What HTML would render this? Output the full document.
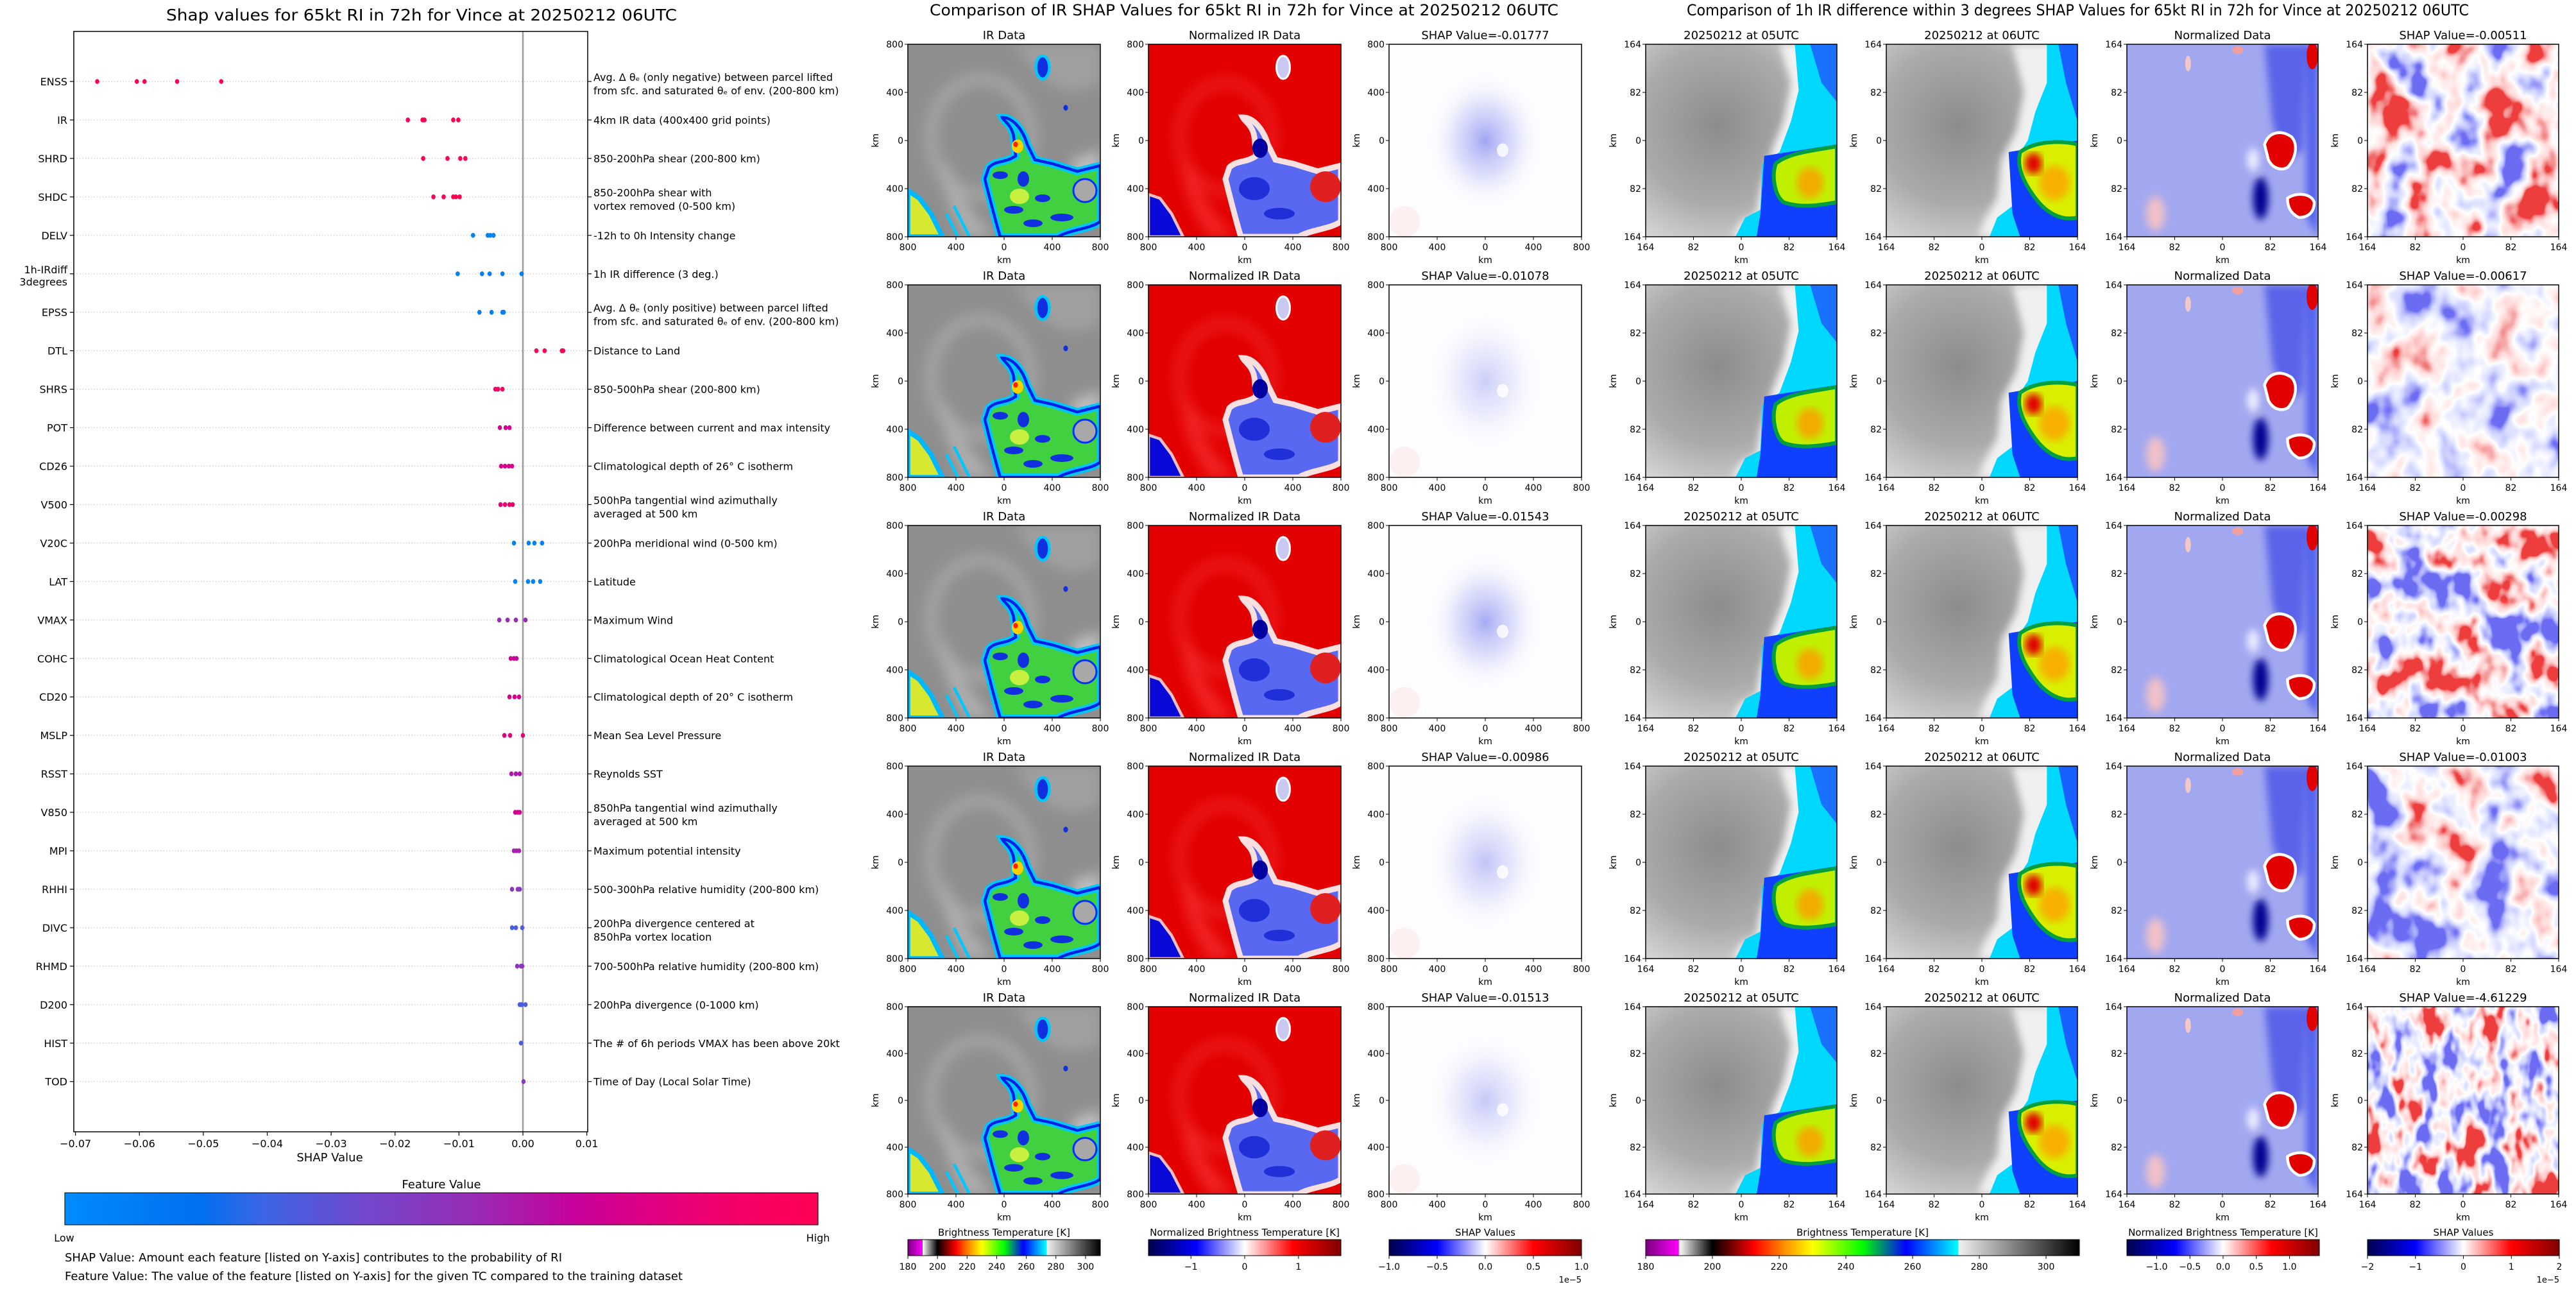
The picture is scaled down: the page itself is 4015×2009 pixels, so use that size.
<!DOCTYPE html>
<html><head><meta charset="utf-8"><title>SHAP RI Vince</title>
<style>
html,body{margin:0;padding:0;background:#fff;}
svg{display:block;font-family:"DejaVu Sans","Liberation Sans",sans-serif;}
</style></head>
<body>
<svg id="fig" xmlns="http://www.w3.org/2000/svg" width="4015" height="2009" viewBox="0 0 4015 2009">
<defs>
  <filter id="b1" x="-10%" y="-10%" width="120%" height="120%"><feGaussianBlur stdDeviation="2"/></filter>
  <filter id="b3" x="-20%" y="-20%" width="140%" height="140%"><feGaussianBlur stdDeviation="3.5"/></filter>
  <radialGradient id="grayRad" cx="0.38" cy="0.42" r="0.75">
    <stop offset="0" stop-color="#8c8c8c"/><stop offset="0.55" stop-color="#aaaaaa"/><stop offset="1" stop-color="#e0e0e0"/>
  </radialGradient>
  <radialGradient id="blueGlow" cx="0.5" cy="0.5" r="0.5">
    <stop offset="0" stop-color="#6a74ec" stop-opacity="0.75"/><stop offset="0.5" stop-color="#a8aef4" stop-opacity="0.45"/><stop offset="1" stop-color="#ffffff" stop-opacity="0"/>
  </radialGradient>
  <linearGradient id="shapCmap" x1="0" x2="1" y1="0" y2="0">
    <stop offset="0" stop-color="#008bfb"/><stop offset="0.18" stop-color="#0070f0"/><stop offset="0.26" stop-color="#3a66e6"/>
    <stop offset="0.4" stop-color="#7248cc"/><stop offset="0.55" stop-color="#9a2ab4"/><stop offset="0.68" stop-color="#c8009a"/>
    <stop offset="0.85" stop-color="#ee0070"/><stop offset="1" stop-color="#ff0052"/>
  </linearGradient>
  <linearGradient id="btCmap" x1="0" x2="1" y1="0" y2="0">
    <stop offset="0" stop-color="#7a0080"/><stop offset="0.076" stop-color="#ff00ff"/><stop offset="0.077" stop-color="#ffffff"/>
    <stop offset="0.154" stop-color="#000000"/><stop offset="0.25" stop-color="#ff0000"/><stop offset="0.32" stop-color="#ff9000"/>
    <stop offset="0.385" stop-color="#ffff00"/><stop offset="0.5" stop-color="#00ff00"/><stop offset="0.6" stop-color="#0000ff"/>
    <stop offset="0.72" stop-color="#00ffff"/><stop offset="0.722" stop-color="#f0f0f0"/><stop offset="1" stop-color="#000000"/>
  </linearGradient>
  <linearGradient id="seismic" x1="0" x2="1" y1="0" y2="0">
    <stop offset="0" stop-color="#00004c"/><stop offset="0.25" stop-color="#0000ff"/><stop offset="0.5" stop-color="#ffffff"/>
    <stop offset="0.75" stop-color="#ff0000"/><stop offset="1" stop-color="#800000"/>
  </linearGradient>

  <g id="irT">
    <rect width="100" height="100" fill="#8e8e8e"/>
    <g filter="url(#b3)">
      <ellipse cx="38" cy="48" rx="26" ry="30" fill="none" stroke="#b0b0b0" stroke-width="7" opacity="0.6"/>
      <path d="M55,0 C70,20 80,30 100,20 L100,0Z" fill="#a0a0a0"/>
      <path d="M20,60 C25,75 30,85 45,100 L30,100 C22,85 15,70 20,60Z" fill="#b0b0b0"/>
      <path d="M85,60 L100,55 L100,75 L88,78Z" fill="#c0c0c0"/>
    </g>
    <path d="M0,76 L6,80 L12,88 L18,100 L0,100Z" fill="#d8e830" stroke="#00b8ff" stroke-width="2.5"/>
    <path d="M20,88 L26,100 M24,84 L32,100" stroke="#00c8ff" stroke-width="1.5" fill="none"/>
    <path d="M42,64 C46,60 50,62 56,58 L55,48 C54,42 50,40 49,38 C55,38 60,45 62,52 L66,60 L75,62 L88,66 L100,63 L100,92 C95,96 85,96 78,100 L48,100 C45,90 42,78 40,70 Z" fill="#40d040" stroke="#00c8ff" stroke-width="4"/>
    <path d="M42,64 C46,60 50,62 56,58 L55,48 C54,42 50,40 49,38 C55,38 60,45 62,52 L66,60 L75,62 L88,66 L100,63 L100,92 C95,96 85,96 78,100 L48,100 C45,90 42,78 40,70 Z" fill="none" stroke="#0020e8" stroke-width="1.5"/>
    <ellipse cx="48" cy="68" rx="4" ry="2" fill="#1030e0"/><ellipse cx="60" cy="70" rx="3" ry="4" fill="#1030e0"/>
    <ellipse cx="70" cy="80" rx="4" ry="2" fill="#1030e0"/><ellipse cx="55" cy="86" rx="5" ry="2" fill="#1030e0"/>
    <ellipse cx="80" cy="90" rx="6" ry="2" fill="#1030e0"/><ellipse cx="65" cy="93" rx="5" ry="2" fill="#1030e0"/>
    <ellipse cx="58" cy="79" rx="5" ry="4" fill="#c8f040"/>
    <ellipse cx="92" cy="76" rx="6" ry="6" fill="#a8a8a8" stroke="#0030ff" stroke-width="1"/>
    <ellipse cx="57" cy="53" rx="3" ry="3.5" fill="#ffd000"/><ellipse cx="56" cy="52" rx="1.2" ry="1.4" fill="#ff2000"/>
    <ellipse cx="70" cy="12" rx="3.5" ry="6" fill="#1030e0" stroke="#00c8ff" stroke-width="1.5"/>
    <ellipse cx="82" cy="33" rx="1.2" ry="1.5" fill="#1030e0"/>
  </g>
  <g id="nirT">
    <rect width="100" height="100" fill="#e20000"/>
    <g filter="url(#b3)">
      <ellipse cx="40" cy="48" rx="24" ry="28" fill="none" stroke="#ff5050" stroke-width="5" opacity="0.4"/>
      <path d="M20,60 C25,75 30,85 45,100 L32,100 C22,85 15,70 20,60Z" fill="#ff4040" opacity="0.6"/>
    </g>
    <path d="M0,78 L6,80 L12,88 L18,100 L0,100Z" fill="#0a0ad8" stroke="#f0c0c0" stroke-width="1.5"/>
    <path d="M42,64 C46,60 50,62 56,58 L55,48 C54,42 50,40 49,38 C55,38 60,45 62,52 L66,60 L75,62 L88,66 L100,63 L100,92 C95,96 85,96 78,100 L48,100 C45,90 42,78 40,70 Z" fill="#5868f0" stroke="#f8e0e0" stroke-width="3"/>
    <ellipse cx="55" cy="75" rx="8" ry="6" fill="#2030d8"/><ellipse cx="68" cy="88" rx="8" ry="3" fill="#2030d8"/>
    <ellipse cx="92" cy="74" rx="8" ry="8" fill="#e02020"/>
    <ellipse cx="58" cy="54" rx="4" ry="5" fill="#0000a0"/>
    <ellipse cx="70" cy="12" rx="3.5" ry="6" fill="#c8c8f0" stroke="#ffffff" stroke-width="1"/>
  </g>
  <g id="t05">
    <rect width="100" height="100" fill="url(#grayRad)"/>
    <path d="M70,0 L100,0 L100,100 L45,100 L50,92 L58,88 L60,75 L66,55 L72,40 L76,20 Z" fill="#f2f2f2" filter="url(#b1)"/>
    <path d="M78,0 L100,0 L100,100 L47,100 L52,90 L60,86 L61,62 L70,56 L76,40 L80,24 Z" fill="#00d8ff"/>
    <path d="M86,0 L100,0 L100,30 L92,20Z" fill="#1a70ff"/>
    <path d="M62,58 L100,52 L100,100 L58,100 L60,88 Z" fill="#1040ff"/>
    <path d="M68,62 C75,56 90,55 100,53 L100,82 C90,84 80,85 72,82 C67,78 66,68 68,62Z" fill="#c0f000" stroke="#00a040" stroke-width="2"/>
    <ellipse cx="86" cy="72" rx="7" ry="8" fill="#ff9a00" opacity="0.8" filter="url(#b1)"/>
  </g>
  <g id="t06">
    <rect width="100" height="100" fill="url(#grayRad)"/>
    <path d="M66,0 L100,0 L100,100 L48,100 L52,90 L58,80 L60,60 L68,45 L72,25 Z" fill="#f0f0f0" filter="url(#b1)"/>
    <path d="M84,0 L100,0 L100,100 L54,100 L58,90 L66,84 L66,62 L74,50 L78,35 L84,20 Z" fill="#00d8ff"/>
    <path d="M90,0 L100,0 L100,40 L94,20Z" fill="#1a60ff"/>
    <path d="M64,56 L100,50 L100,100 L70,100 L66,88 Z" fill="#1040ff"/>
    <path d="M70,56 C78,50 92,50 100,52 L100,90 C92,92 84,88 78,80 C72,72 68,64 70,56Z" fill="#d8f000" stroke="#00a040" stroke-width="2"/>
    <ellipse cx="88" cy="72" rx="8" ry="9" fill="#ffa000" opacity="0.8" filter="url(#b1)"/>
    <ellipse cx="77" cy="62" rx="4.5" ry="5.5" fill="#e00000" filter="url(#b1)"/>
  </g>
  <g id="tnorm">
    <rect width="100" height="100" fill="#a2a8f0"/>
    <g filter="url(#b1)">
      <path d="M72,0 L94,0 L92,55 L82,62 L76,40 Z" fill="#3a46e6" opacity="0.7"/>
      <path d="M94,0 L100,0 L100,100 L94,90Z" fill="#5060ee"/>
      <ellipse cx="15" cy="88" rx="5" ry="9" fill="#f0c0c8"/>
      <ellipse cx="70" cy="80" rx="4" ry="11" fill="#000090"/>
      <ellipse cx="66" cy="60" rx="3" ry="6" fill="#f0f0ff"/>
    </g>
    <path d="M72,52 C74,46 80,44 86,48 C90,52 88,60 84,64 C80,66 76,64 74,60Z" fill="#e20000" stroke="#ffffff" stroke-width="1.5"/>
    <path d="M84,80 C88,77 96,77 98,82 C98,88 94,90 90,90 C86,88 84,85 84,80Z" fill="#e00000" stroke="#ffffff" stroke-width="1.5"/>
    <ellipse cx="97" cy="6" rx="3" ry="7" fill="#e00000"/>
    <ellipse cx="58" cy="3" rx="3" ry="2" fill="#f0a0a0"/>
    <ellipse cx="32" cy="10" rx="1.5" ry="4" fill="#f4c8c8"/>
  </g>
  <filter id="turb1" x="0" y="0" width="100" height="100" filterUnits="userSpaceOnUse">
    <feTurbulence type="fractalNoise" baseFrequency="0.05 0.04" numOctaves="3" seed="3"/>
    <feColorMatrix type="matrix" values="2.6 0 0 0 -0.8  2.6 0 0 0 -0.8  2.6 0 0 0 -0.8  0 0 0 0 1"/>
    <feComponentTransfer><feFuncR type="table" tableValues="0.15 0.65 1 1 0.85"/><feFuncG type="table" tableValues="0.15 0.68 1 0.68 0.05"/><feFuncB type="table" tableValues="0.9 1 1 0.68 0.05"/></feComponentTransfer>
  </filter>
  <filter id="turb2" x="0" y="0" width="100" height="100" filterUnits="userSpaceOnUse">
    <feTurbulence type="fractalNoise" baseFrequency="0.05 0.04" numOctaves="3" seed="11"/>
    <feColorMatrix type="matrix" values="1.8 0 0 0 -0.48  1.8 0 0 0 -0.48  1.8 0 0 0 -0.48  0 0 0 0 1"/>
    <feComponentTransfer><feFuncR type="table" tableValues="0.15 0.65 1 1 0.85"/><feFuncG type="table" tableValues="0.15 0.68 1 0.68 0.05"/><feFuncB type="table" tableValues="0.9 1 1 0.68 0.05"/></feComponentTransfer>
  </filter>
  <filter id="turb3" x="0" y="0" width="100" height="100" filterUnits="userSpaceOnUse">
    <feTurbulence type="fractalNoise" baseFrequency="0.06 0.045" numOctaves="3" seed="27"/>
    <feColorMatrix type="matrix" values="2.8 0 0 0 -0.9  2.8 0 0 0 -0.9  2.8 0 0 0 -0.9  0 0 0 0 1"/>
    <feComponentTransfer><feFuncR type="table" tableValues="0.15 0.65 1 1 0.85"/><feFuncG type="table" tableValues="0.15 0.68 1 0.68 0.05"/><feFuncB type="table" tableValues="0.9 1 1 0.68 0.05"/></feComponentTransfer>
  </filter>
  <filter id="turb4" x="0" y="0" width="100" height="100" filterUnits="userSpaceOnUse">
    <feTurbulence type="fractalNoise" baseFrequency="0.05 0.04" numOctaves="3" seed="41"/>
    <feColorMatrix type="matrix" values="2.4 0 0 0 -0.82  2.4 0 0 0 -0.82  2.4 0 0 0 -0.82  0 0 0 0 1"/>
    <feComponentTransfer><feFuncR type="table" tableValues="0.15 0.65 1 1 0.85"/><feFuncG type="table" tableValues="0.15 0.68 1 0.68 0.05"/><feFuncB type="table" tableValues="0.9 1 1 0.68 0.05"/></feComponentTransfer>
  </filter>
  <filter id="turb5" x="0" y="0" width="100" height="100" filterUnits="userSpaceOnUse">
    <feTurbulence type="fractalNoise" baseFrequency="0.08 0.045" numOctaves="3" seed="57"/>
    <feColorMatrix type="matrix" values="3.2 0 0 0 -1.12  3.2 0 0 0 -1.12  3.2 0 0 0 -1.12  0 0 0 0 1"/>
    <feComponentTransfer><feFuncR type="table" tableValues="0.15 0.65 1 1 0.85"/><feFuncG type="table" tableValues="0.15 0.68 1 0.68 0.05"/><feFuncB type="table" tableValues="0.9 1 1 0.68 0.05"/></feComponentTransfer>
  </filter>
</defs>
<rect x="0" y="0" width="4015" height="2009" fill="#ffffff"/>
</svg>
<script>
const features = ["ENSS","IR","SHRD","SHDC","DELV","1h-IRdiff\n3degrees","EPSS","DTL","SHRS","POT","CD26","V500","V20C","LAT","VMAX","COHC","CD20","MSLP","RSST","V850","MPI","RHHI","DIVC","RHMD","D200","HIST","TOD"];
const descriptions = [
 ["Avg. Δ θₑ (only negative) between parcel lifted","from sfc. and saturated θₑ of env. (200-800 km)"],
 ["4km IR data (400x400 grid points)"],
 ["850-200hPa shear (200-800 km)"],
 ["850-200hPa shear with","vortex removed (0-500 km)"],
 ["-12h to 0h Intensity change"],
 ["1h IR difference (3 deg.)"],
 ["Avg. Δ θₑ (only positive) between parcel lifted","from sfc. and saturated θₑ of env. (200-800 km)"],
 ["Distance to Land"],
 ["850-500hPa shear (200-800 km)"],
 ["Difference between current and max intensity"],
 ["Climatological depth of 26° C isotherm"],
 ["500hPa tangential wind azimuthally","averaged at 500 km"],
 ["200hPa meridional wind (0-500 km)"],
 ["Latitude"],
 ["Maximum Wind"],
 ["Climatological Ocean Heat Content"],
 ["Climatological depth of 20° C isotherm"],
 ["Mean Sea Level Pressure"],
 ["Reynolds SST"],
 ["850hPa tangential wind azimuthally","averaged at 500 km"],
 ["Maximum potential intensity"],
 ["500-300hPa relative humidity (200-800 km)"],
 ["200hPa divergence centered at","850hPa vortex location"],
 ["700-500hPa relative humidity (200-800 km)"],
 ["200hPa divergence (0-1000 km)"],
 ["The # of 6h periods VMAX has been above 20kt"],
 ["Time of Day (Local Solar Time)"]
];
const shapValues = [
 [-0.0666,-0.0604,-0.0592,-0.0541,-0.0472],
 [-0.0180,-0.0157,-0.0154,-0.0109,-0.0101],
 [-0.0156,-0.0118,-0.0098,-0.0090],
 [-0.0140,-0.0124,-0.0109,-0.0105,-0.0099],
 [-0.0078,-0.0055,-0.0051,-0.0046],
 [-0.0102,-0.0064,-0.0052,-0.0032,-0.0002],
 [-0.0068,-0.0049,-0.0032,-0.0030],
 [0.0021,0.0034,0.0061,0.0063],
 [-0.0043,-0.0039,-0.0032],
 [-0.0036,-0.0027,-0.0021],
 [-0.0034,-0.0028,-0.0022,-0.0017],
 [-0.0035,-0.0028,-0.0021,-0.0016],
 [-0.0014,0.0009,0.0018,0.0030],
 [-0.0012,0.0008,0.0016,0.0027],
 [-0.0037,-0.0024,-0.0011,0.0004],
 [-0.0019,-0.0014,-0.0010],
 [-0.0021,-0.0013,-0.0006],
 [-0.0029,-0.0020,0.0000],
 [-0.0018,-0.0011,-0.0005],
 [-0.0012,-0.0008,-0.0005],
 [-0.0014,-0.0010,-0.0006],
 [-0.0017,-0.0008,-0.0005],
 [-0.0017,-0.0011,-0.0001],
 [-0.0009,-0.0003,-0.0001],
 [-0.0005,-0.0002,0.0004],
 [-0.0003],
 [0.0001]
];
const featureValues = [1,1,1,1,0.05,0.08,0.08,1,0.92,0.72,0.75,0.85,0.06,0.06,0.55,0.7,0.75,0.8,0.6,0.72,0.58,0.48,0.3,0.5,0.3,0.3,0.48];
const xTickValues = [-0.07,-0.06,-0.05,-0.04,-0.03,-0.02,-0.01,0.00,0.01];
const xTickLabels = ["−0.07","−0.06","−0.05","−0.04","−0.03","−0.02","−0.01","0.00","0.01"];

const midShapTitles = ["SHAP Value=-0.01777","SHAP Value=-0.01078","SHAP Value=-0.01543","SHAP Value=-0.00986","SHAP Value=-0.01513"];
const midShapIntensity = [0.85,0.45,0.8,0.55,0.5];
const rightShapTitles = ["SHAP Value=-0.00511","SHAP Value=-0.00617","SHAP Value=-0.00298","SHAP Value=-0.01003","SHAP Value=-4.61229"];
const midTickLabels = ["800","400","0","400","800"];
const rightTickLabels = ["164","82","0","82","164"];
const btTicks = [180,200,220,240,260,280,300];
const midNormTicks = [-1,0,1];
const midNormTickLabels = ["−1","0","1"];
const shapTicksMid = [-1,-0.5,0,0.5,1];
const shapTicksMidLabels = ["−1.0","−0.5","0.0","0.5","1.0"];
const rightNormTicks = [-1,-0.5,0,0.5,1];
const rightNormTickLabels = ["−1.0","−0.5","0.0","0.5","1.0"];
const shapTicksRight = [-2,-1,0,1,2];
const shapTicksRightLabels = ["−2","−1","0","1","2"];

const NS = "http://www.w3.org/2000/svg";
const svg = document.getElementById("fig");
function el(tag, attrs, parent){ const e=document.createElementNS(NS,tag); for(const k in attrs) e.setAttribute(k, attrs[k]); (parent||svg).appendChild(e); return e; }
function txt(str, attrs, parent){ const t=el("text", attrs, parent); t.textContent=str; return t; }

const cmapStops = [[0,[0,139,251]],[0.18,[0,112,240]],[0.26,[58,102,230]],[0.4,[114,72,204]],[0.55,[154,42,180]],[0.68,[200,0,154]],[0.85,[238,0,112]],[1,[255,0,82]]];
function cmap(v){
  for(let i=1;i<cmapStops.length;i++){
    if(v<=cmapStops[i][0]){
      const a=cmapStops[i-1], b=cmapStops[i]; const t=(v-a[0])/(b[0]-a[0]);
      const c=a[1].map((x,j)=>Math.round(x+(b[1][j]-x)*t));
      return "rgb("+c.join(",")+")";
    }
  }
  return "rgb(255,0,82)";
}

const AX = {left:115, right:916, top:49, bottom:1764};
function xScale(v){ return 815 + v*9962; }
function yScale(i){ return 127 + i*59.95; }

const leftG = el("g", {});



const lt = txt("Shap values for 65kt RI in 72h for Vince at 20250212 06UTC", {x:259, y:32, "font-size":25, textLength:796, lengthAdjust:"spacingAndGlyphs"}, leftG);



features.forEach((f,i)=>{
  const y=yScale(i);
  const gl = el("line", {x1:AX.left, x2:AX.right, y1:y, y2:y, stroke:"#c8c8c8", "stroke-width":1.2, "stroke-dasharray":"1.5 3"}, leftG);
  
  
});
const zl = el("line", {x1:xScale(0), x2:xScale(0), y1:AX.top, y2:AX.bottom, stroke:"#999999", "stroke-width":2.5}, leftG);



const frame = el("rect", {x:AX.left, y:AX.top, width:AX.right-AX.left, height:AX.bottom-AX.top, fill:"none", stroke:"#000", "stroke-width":1.5}, leftG);



features.forEach((f,i)=>{
  const y=yScale(i);
  el("line", {x1:AX.left-6, x2:AX.left, y1:y, y2:y, stroke:"#000", "stroke-width":1.2}, leftG);
  el("line", {x1:AX.right, x2:AX.right+6, y1:y, y2:y, stroke:"#000", "stroke-width":1.2}, leftG);
  const parts=f.split("\n");
  if(parts.length===1){
    const t=txt(f,{x:105,y:y+6,"font-size":16,"text-anchor":"end"},leftG);
    
    
  } else {
    const t=el("text",{x:105,"font-size":16,"text-anchor":"end"},leftG);
    
    
    parts.forEach((p,k)=>{ const ts=el("tspan",{x:105,y:y-1+k*19},t); ts.textContent=p; });
  }
  const d=descriptions[i];
  const dt=el("text",{x:925,"font-size":16},leftG);
  
  
  if(d.length===1){ const ts=el("tspan",{x:925,y:y+6},dt); ts.textContent=d[0]; }
  else d.forEach((p,k)=>{ const ts=el("tspan",{x:925,y:y-1+k*21},dt); ts.textContent=p; });
  shapValues[i].forEach(v=>{
    const c=el("ellipse",{cx:xScale(v), cy:y, rx:3.3, ry:3.8, fill:cmap(featureValues[i])},leftG);
    
    
  });
});
xTickValues.forEach((v,k)=>{
  const x=xScale(v);
  el("line",{x1:x,x2:x,y1:AX.bottom,y2:AX.bottom+6,stroke:"#000","stroke-width":1.2},leftG);
  const t=txt(xTickLabels[k],{x:x,y:1788,"font-size":16,"text-anchor":"middle"},leftG);
  
  
});
const xl=txt("SHAP Value",{x:514,y:1810,"font-size":18,"text-anchor":"middle"},leftG);


const fvt=txt("Feature Value",{x:688,y:1852,"font-size":18,"text-anchor":"middle"},leftG);


const fcb=el("rect",{x:101,y:1859,width:1174,height:50,fill:"url(#shapCmap)",stroke:"#000","stroke-width":1},leftG);


const lowT=txt("Low",{x:100,y:1935,"font-size":16,"text-anchor":"middle"},leftG);


const highT=txt("High",{x:1275,y:1935,"font-size":16,"text-anchor":"middle"},leftG);


const n1=txt("SHAP Value: Amount each feature [listed on Y-axis] contributes to the probability of RI",{x:101,y:1966,"font-size":18,textLength:775,lengthAdjust:"spacingAndGlyphs"},leftG);


const n2=txt("Feature Value: The value of the feature [listed on Y-axis] for the given TC compared to the training dataset",{x:101,y:1995,"font-size":18,textLength:963,lengthAdjust:"spacingAndGlyphs"},leftG);



const rowTops=[69,444,819,1194,1569];
const rowH=[300,300,300,300,292];
const midX=[1415,1790,2165];
const rightX=[2565,2940,3315,3690];

function panel(px, py, w, h, title, tickLabels, contentFn, name){
  const g=el("g",{});
  
  
  const inner=el("svg",{x:px,y:py,width:w,height:h,viewBox:"0 0 100 100",preserveAspectRatio:"none"},g);
  contentFn(inner);
  el("rect",{x:px,y:py,width:w,height:h,fill:"none",stroke:"#000","stroke-width":1.5},g);
  const tt=txt(title,{x:px+w/2,y:py-8,"font-size":18,"text-anchor":"middle"},g);
  
  
  for(let k=0;k<5;k++){
    const x=px+w*k/4, y=py+h*k/4;
    el("line",{x1:x,x2:x,y1:py+h,y2:py+h+5,stroke:"#000","stroke-width":1},g);
    txt(tickLabels[k],{x:x,y:py+h+21,"font-size":14,"text-anchor":"middle"},g);
    el("line",{x1:px-5,x2:px,y1:y,y2:y,stroke:"#000","stroke-width":1},g);
    txt(tickLabels[k],{x:px-7,y:y+5,"font-size":14,"text-anchor":"end"},g);
  }
  txt("km",{x:px+w/2,y:py+h+41,"font-size":14,"text-anchor":"middle"},g);
  txt("km",{x:0,y:0,"font-size":14,"text-anchor":"middle",transform:"translate("+(px-46)+","+(py+h/2)+") rotate(-90)"},g);
  return g;
}
function useT(id){ return function(s){ el("use",{href:"#"+id},s); }; }

const midTitle=txt("Comparison of IR SHAP Values for 65kt RI in 72h for Vince at 20250212 06UTC",{x:1449,y:24,"font-size":24,textLength:980,lengthAdjust:"spacingAndGlyphs"});


const rightTitle=txt("Comparison of 1h IR difference within 3 degrees SHAP Values for 65kt RI in 72h for Vince at 20250212 06UTC",{x:2629,y:24,"font-size":24,textLength:1219,lengthAdjust:"spacingAndGlyphs"});



for(let r=0;r<5;r++){
  const py=rowTops[r], h=rowH[r];
  panel(midX[0],py,300,h,"IR Data",midTickLabels,useT("irT"),"ir-data-panel-"+(r+1));
  panel(midX[1],py,300,h,"Normalized IR Data",midTickLabels,useT("nirT"),"normalized-ir-panel-"+(r+1));
  panel(midX[2],py,300,h,midShapTitles[r],midTickLabels,function(s){
    el("rect",{width:100,height:100,fill:"#fdfcff"},s);
    el("ellipse",{cx:50,cy:50,rx:30,ry:36,fill:"url(#blueGlow)",opacity:midShapIntensity[r]},s);
    el("ellipse",{cx:59,cy:55,rx:3,ry:3.5,fill:"#ffffff",opacity:0.8},s);
    el("ellipse",{cx:8,cy:92,rx:8,ry:8,fill:"#fde8e8",opacity:0.6},s);
  },"ir-shap-panel-"+(r+1));
  panel(rightX[0],py,298,h,"20250212 at 05UTC",rightTickLabels,useT("t05"),"ir-05utc-panel-"+(r+1));
  panel(rightX[1],py,298,h,"20250212 at 06UTC",rightTickLabels,useT("t06"),"ir-06utc-panel-"+(r+1));
  panel(rightX[2],py,298,h,"Normalized Data",rightTickLabels,useT("tnorm"),"normalized-diff-panel-"+(r+1));
  panel(rightX[3],py,298,h,rightShapTitles[r],rightTickLabels,function(s){
    el("rect",{width:100,height:100,fill:"#fff",filter:"url(#turb"+(r+1)+")"},s);
  },"diff-shap-panel-"+(r+1));
}

function colorbar(x,w,grad,title,ticks,labels,vmin,vmax,name,exp){
  const g=el("g",{});
  
  
  txt(title,{x:x+w/2,y:1926,"font-size":15,"text-anchor":"middle"},g);
  el("rect",{x:x,y:1932,width:w,height:25,fill:"url(#"+grad+")",stroke:"#000","stroke-width":1},g);
  ticks.forEach((v,k)=>{
    const tx=x+(v-vmin)/(vmax-vmin)*w;
    el("line",{x1:tx,x2:tx,y1:1957,y2:1962,stroke:"#000","stroke-width":1},g);
    txt(labels[k],{x:tx,y:1979,"font-size":14,"text-anchor":"middle"},g);
  });
  if(exp) txt("1e−5",{x:x+w,y:1999,"font-size":13,"text-anchor":"end"},g);
}
colorbar(1415,300,"btCmap","Brightness Temperature [K]",btTicks,btTicks.map(String),180,310,"bt-colorbar-mid",false);
colorbar(1790,300,"seismic","Normalized Brightness Temperature [K]",midNormTicks,midNormTickLabels,-1.79,1.79,"norm-colorbar-mid",false);
colorbar(2165,300,"seismic","SHAP Values",shapTicksMid,shapTicksMidLabels,-1,1,"shap-colorbar-mid",true);
colorbar(2565,676,"btCmap","Brightness Temperature [K]",btTicks,btTicks.map(String),180,310,"bt-colorbar-right",false);
colorbar(3315,300,"seismic","Normalized Brightness Temperature [K]",rightNormTicks,rightNormTickLabels,-1.45,1.45,"norm-colorbar-right",false);
colorbar(3690,299,"seismic","SHAP Values",shapTicksRight,shapTicksRightLabels,-2,2,"shap-colorbar-right",true);
</script>
</body></html>
